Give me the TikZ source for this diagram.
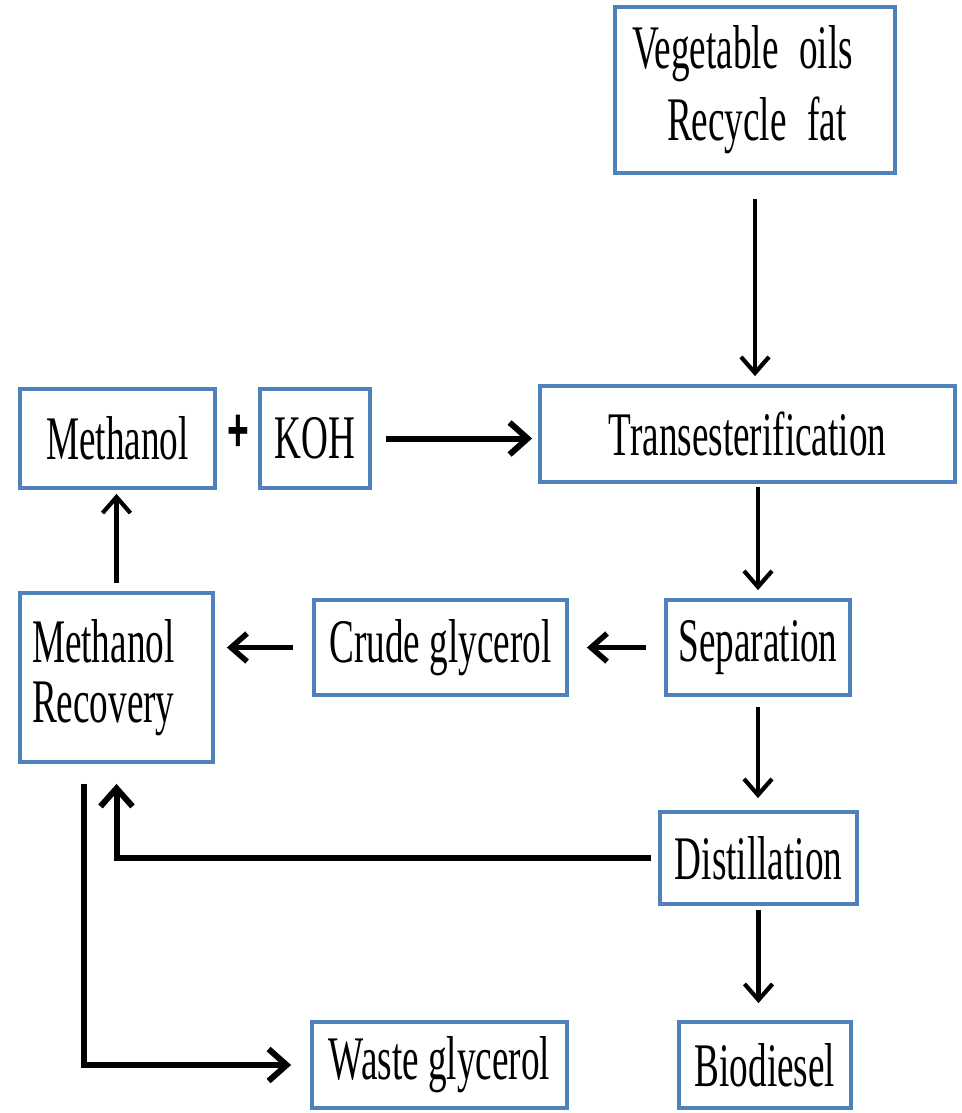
\documentclass[tikz,border=0pt]{standalone}
\usepackage{fontspec}
\setmainfont[FakeStretch=0.6]{Liberation Serif}
\newfontfamily\plusfont[FakeStretch=0.6]{Liberation Sans}
\usetikzlibrary{arrows.meta}
\definecolor{boxblue}{RGB}{79,129,189}

\begin{document}
\begin{tikzpicture}[x=1pt,y=-1pt,
    box/.style={draw=boxblue, line width=3.8pt, fill=white, inner sep=0pt,
      font=\fontsize{62}{72}\selectfont},
    flow/.style={-{Straight Barb[length=16pt,width=28pt]}, line width=4.2pt},
    bigflow/.style={-{Straight Barb[length=18pt,width=32pt]}, line width=6pt}]
  \useasboundingbox (0,0) rectangle (961,1113);
  \draw
    (755,90) node[box, minimum width=280pt, minimum height=166pt,
      inner xsep=17pt, text width=246pt, align=left] (veg)
      {Vegetable oils\\\hspace*{35pt}Recycle fat}
    (747.5,434) node[box, minimum width=415pt, minimum height=96pt] (trans) {Transesterification}
    (117.5,438.5) node[box, minimum width=195pt, minimum height=99pt] (meth) {Methanol}
    (238,433) node[font=\plusfont\bfseries\fontsize{62}{62}\selectfont] (plus) {+}
    (315,438.5) node[box, minimum width=110pt, minimum height=99pt] (koh) {KOH}
    (116.5,677.5) node[box, minimum width=193pt, minimum height=169pt,
      inner xsep=12pt, text width=169pt, align=left,
      font=\fontsize{62}{60}\selectfont] (recov) {Methanol\\Recovery}
    (440.5,647.5) node[box, minimum width=253pt, minimum height=95pt] (crude) {Crude glycerol}
    (758,647.5) node[box, minimum width=184pt, minimum height=95pt] (sep) {Separation}
    (758.5,858) node[box, minimum width=197pt, minimum height=92pt] (dist) {Distillation}
    (765,1065) node[box, minimum width=172pt, minimum height=86pt] (bio) {Biodiesel}
    (439.5,1065) node[box, minimum width=255pt, minimum height=86pt] (waste) {Waste glycerol};
  \begin{scope}[flow]
    \draw[shorten <=24pt, shorten >=8pt] (veg.south) -- (veg.south |- trans.north);
    \draw[shorten <=3pt, shorten >=8pt] (sep.north |- trans.south) -- (sep.north);
    \draw[shorten <=10pt, shorten >=12pt] (sep.south) -- (sep.south |- dist.north);
    \draw[shorten <=4pt, shorten >=17pt] (dist.south) -- (dist.south |- bio.north);
    \draw[shorten <=8pt, shorten >=4pt] (recov.north) -- (recov.north |- meth.south);
    \draw[line width=5.5pt, shorten <=18pt, shorten >=18pt] (sep.west) -- (crude.east);
    \draw[line width=5.5pt, shorten <=19pt, shorten >=12pt] (crude.west) -- (crude.west -| recov.east);
  \end{scope}
  \begin{scope}[bigflow]
    \draw[shorten <=14pt, shorten >=6pt] (koh.east) -- (koh.east -| trans.west);
    \draw[shorten <=7pt, shorten >=20pt] (dist.west) -| (recov.south);
    \draw[shorten >=19pt] ([xshift=66pt,yshift=-20pt]recov.south west) |- (waste.west);
  \end{scope}
\end{tikzpicture}
\end{document}
